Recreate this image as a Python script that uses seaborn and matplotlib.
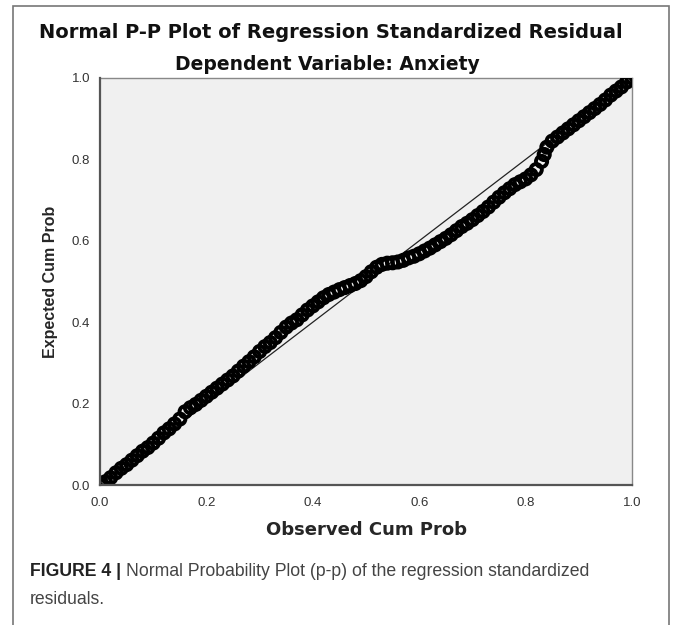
import matplotlib
matplotlib.use("Agg")
import matplotlib.pyplot as plt
import matplotlib.patches as mpatches
import seaborn as sns
import pandas as pd

observed = [0.00, 0.01, 0.02, 0.03, 0.04, 0.05, 0.06, 0.07, 0.08, 0.09,
            0.10, 0.11, 0.12, 0.13, 0.14, 0.15, 0.16, 0.17, 0.18, 0.19,
            0.20, 0.21, 0.22, 0.23, 0.24, 0.25, 0.26, 0.27, 0.28, 0.29,
            0.30, 0.31, 0.32, 0.33, 0.34, 0.35, 0.36, 0.37, 0.38, 0.39,
            0.40, 0.41, 0.42, 0.43, 0.44, 0.45, 0.46, 0.47, 0.48, 0.49,
            0.50, 0.51, 0.52, 0.53, 0.54, 0.55, 0.56, 0.57, 0.58, 0.59,
            0.60, 0.61, 0.62, 0.63, 0.64, 0.65, 0.66, 0.67, 0.68, 0.69,
            0.70, 0.71, 0.72, 0.73, 0.74, 0.75, 0.76, 0.77, 0.78, 0.79,
            0.80, 0.81, 0.82, 0.83, 0.835, 0.84, 0.85, 0.86, 0.87, 0.88, 0.89,
            0.90, 0.91, 0.92, 0.93, 0.94, 0.95, 0.96, 0.97, 0.98, 0.99, 1.00]

expected = [0.000, 0.008, 0.018, 0.030, 0.041, 0.050, 0.061, 0.072, 0.083, 0.092,
            0.103, 0.115, 0.128, 0.138, 0.150, 0.162, 0.180, 0.190, 0.198, 0.208,
            0.218, 0.228, 0.238, 0.248, 0.258, 0.268, 0.280, 0.292, 0.303, 0.315,
            0.328, 0.340, 0.350, 0.362, 0.375, 0.388, 0.398, 0.406, 0.418, 0.430,
            0.440, 0.450, 0.460, 0.468, 0.474, 0.480, 0.485, 0.490, 0.495, 0.502,
            0.512, 0.524, 0.535, 0.542, 0.545, 0.546, 0.548, 0.552, 0.558, 0.562,
            0.568, 0.575, 0.582, 0.590, 0.598, 0.606, 0.615, 0.625, 0.635, 0.643,
            0.652, 0.662, 0.672, 0.683, 0.695, 0.707, 0.718, 0.728, 0.738, 0.745,
            0.752, 0.762, 0.775, 0.795, 0.812, 0.830, 0.845, 0.855, 0.865, 0.875, 0.885,
            0.895, 0.905, 0.915, 0.925, 0.935, 0.946, 0.958, 0.968, 0.978, 0.990, 1.000]

ticks = [0.0, 0.2, 0.4, 0.6, 0.8, 1.0]
tick_labels = ["0.0", "0.2", "0.4", "0.6", "0.8", "1.0"]

df = pd.DataFrame({"observed": observed, "expected": expected})

sns.set_style("white")
plt.rcParams["font.family"] = ["Liberation Sans", "DejaVu Sans"]

W, H = 673, 625
fig = plt.figure(figsize=(W / 100, H / 100), dpi=100)
fig.patch.set_facecolor("white")

# outer frame (open at the bottom, runs off the image)
frame = mpatches.Rectangle((13 / W, -0.05), (669 - 13) / W, 1.05 - 6 / H,
                           transform=fig.transFigure, fill=False,
                           edgecolor="#777777", linewidth=1.2, clip_on=False)
fig.add_artist(frame)

ax = fig.add_axes([100 / W, 1 - 485 / H, 532 / W, 407 / H])
ax.set_facecolor("#f0f0f0")

sns.scatterplot(x="observed", y="expected", data=df, ax=ax,
                marker="o", s=65, facecolor="none", edgecolor="black",
                linewidth=2.8, legend=False, zorder=3)

ax.set_xlim(0, 1)
ax.set_ylim(0, 1)
ax.plot(ax.get_xlim(), ax.get_ylim(), color="#222222", linewidth=0.9, zorder=2)

ax.set_xticks(ticks)
ax.set_xticklabels(tick_labels)
ax.set_yticks(ticks)
ax.set_yticklabels(tick_labels)
ax.tick_params(axis="both", direction="out", length=6, width=1.3,
               color="#444444", labelcolor="#333333", labelsize=9.5)
ax.tick_params(axis="y", pad=1)
ax.tick_params(axis="x", pad=3)

for side in ["left", "bottom"]:
    ax.spines[side].set_color("#555555")
    ax.spines[side].set_linewidth(1.6)
    ax.spines[side].set_zorder(4)
for side in ["top", "right"]:
    ax.spines[side].set_color("#888888")
    ax.spines[side].set_linewidth(1.0)

ax.set_xlabel("Observed Cum Prob", fontsize=13, fontweight="bold",
              family=["DejaVu Sans"], labelpad=8)
ax.set_ylabel("Expected Cum Prob", fontsize=11.5, fontweight="bold",
              family=["Liberation Sans Narrow", "Liberation Sans"], labelpad=10)

fig.text(331 / W, 1 - 33 / H, "Normal P-P Plot of Regression Standardized Residual",
         ha="center", va="center", fontsize=14, fontweight="bold",
         family=["DejaVu Sans"], color="#111111")
fig.text(327 / W, 1 - 65 / H, "Dependent Variable: Anxiety",
         ha="center", va="center", fontsize=13.5, fontweight="bold",
         family=["DejaVu Sans"], color="#111111")

# caption
cap_font = ["Liberation Sans Narrow", "Liberation Sans"]
t1 = fig.text(30 / W, 1 - 572 / H, "FIGURE 4 |", ha="left", va="center",
              fontsize=12.7, fontweight="bold", family=cap_font, color="#222222")
fig.canvas.draw()
bb = t1.get_window_extent(renderer=fig.canvas.get_renderer())
fig.text((bb.x1 + 5) / W, 1 - 572 / H,
         "Normal Probability Plot (p-p) of the regression standardized",
         ha="left", va="center", fontsize=12.7, family=cap_font, color="#444444")
fig.text(30 / W, 1 - 600 / H, "residuals.", ha="left", va="center",
         fontsize=12.7, family=cap_font, color="#444444")

fig.savefig("out.png", dpi=100)
